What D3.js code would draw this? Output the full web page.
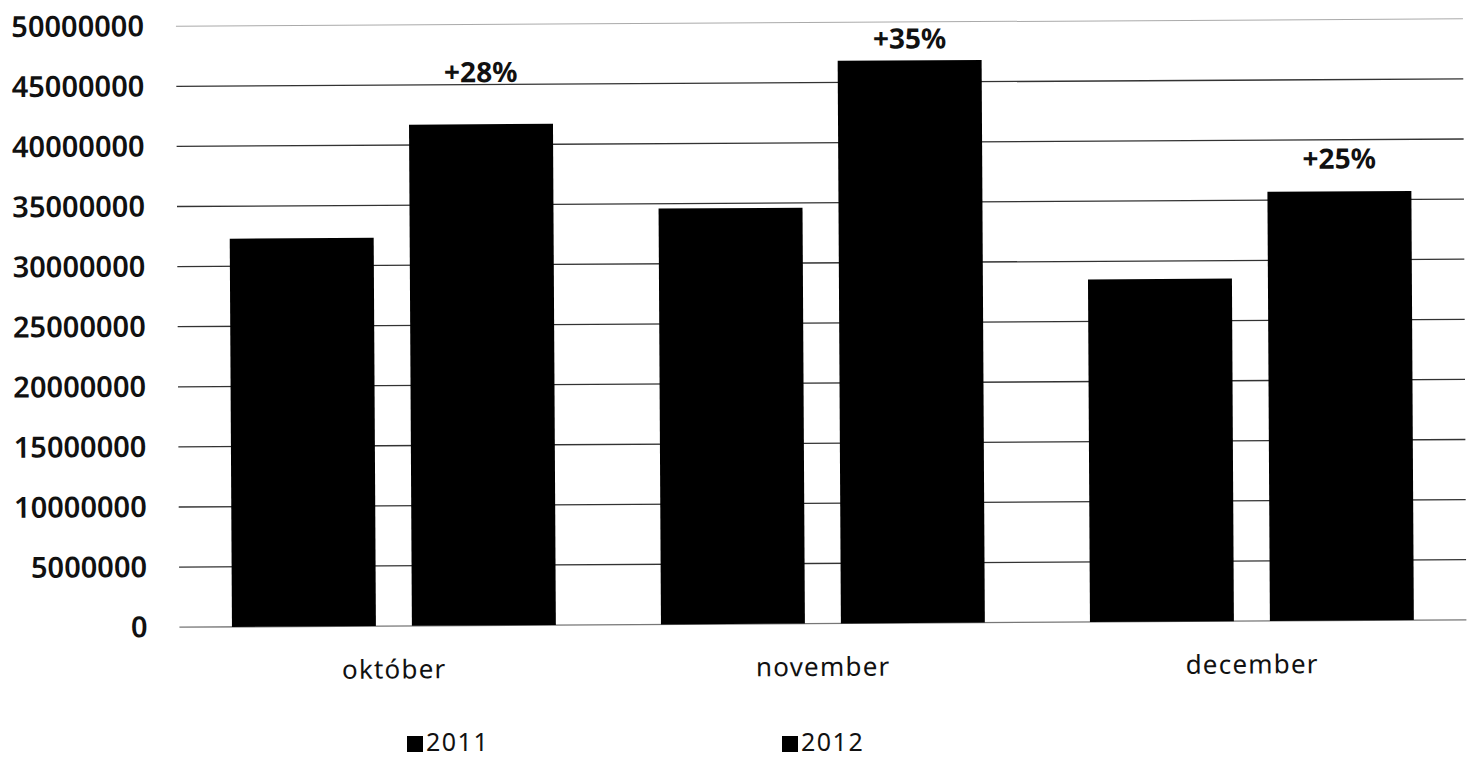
<!DOCTYPE html>
<html>
<head>
<meta charset="utf-8">
<script src="https://cdn.jsdelivr.net/npm/d3@7"></script>
<style>
  html, body { margin: 0; padding: 0; background: #fff; }
  svg { display: block; }
  text { font-family: "Noto Sans", "Open Sans", sans-serif; fill: #111; }
</style>
</head>
<body>
<svg id="chart" width="1472" height="759"></svg>
<script>
// ---- data ----
const categories = ["október", "november", "december"];
const seriesNames = ["2011", "2012"];
const values2011 = [32300000, 34600000, 28500000];
const values2012 = [41700000, 46800000, 35700000];
const changeLabels = ["+28%", "+35%", "+25%"];
// annotation anchor (data units) for each change label
const changeAnchors = [45200000, 47800000, 37600000];
const yTicks = [0, 5000000, 10000000, 15000000, 20000000, 25000000, 30000000, 35000000, 40000000, 45000000, 50000000];

const seriesValues = [values2011, values2012];
const rows = categories.map((c, i) => ({ cat: c, vals: seriesNames.map((s, j) => ({ s, v: seriesValues[j][i] })) }));

const svg = d3.select("#chart");
const W = 1472, H = 759;
const margin = { left: 178, right: 7, top: 23, bottom: 135 };
const plotW = W - margin.left - margin.right;
const plotH = H - margin.top - margin.bottom;

// the scanned original is very slightly tilted
const root = svg.append("g").attr("transform", "rotate(-0.33, 736, 380)");
const g = root.append("g").attr("transform", `translate(${margin.left},${margin.top})`);

const y = d3.scaleLinear().domain([0, 50000000]).range([plotH, 0]);
const x0 = d3.scaleBand().domain(categories).range([0, plotW]).paddingInner(0.245).paddingOuter(0.1225);
const x1 = d3.scaleBand().domain(seriesNames).range([0, x0.bandwidth()]).paddingInner(0.2).paddingOuter(0);

// gridlines
g.append("g").selectAll("line").data(yTicks).join("line")
  .attr("x1", 0).attr("x2", plotW)
  .attr("y1", d => y(d)).attr("y2", d => y(d))
  .attr("stroke", d => d === 50000000 ? "#aaa" : (d === 0 ? "#777" : "#333"))
  .attr("stroke-width", d => d === 50000000 ? 1 : 1.3);

// y axis labels
const yAxis = d3.axisLeft(y).tickValues(yTicks).tickFormat(d3.format("d")).tickSize(0).tickPadding(32);
const ya = g.append("g").call(yAxis);
ya.select(".domain").remove();
ya.selectAll("text")
  .style("font-family", "'Noto Sans', sans-serif")
  .style("font-size", "29px")
  .style("font-weight", "600")
  .attr("fill", "#111");

// bars
const groups = g.append("g").selectAll("g").data(rows).join("g")
  .attr("transform", d => `translate(${x0(d.cat)},0)`);
groups.selectAll("rect").data(d => d.vals).join("rect")
  .attr("x", d => x1(d.s))
  .attr("width", x1.bandwidth())
  .attr("y", d => y(d.v))
  .attr("height", d => y(0) - y(d.v))
  .attr("fill", "#000");

// change labels
g.append("g").selectAll("text").data(changeLabels).join("text")
  .attr("x", (d, i) => x0(categories[i]) + x1("2012") + x1.bandwidth() / 2)
  .attr("y", (d, i) => y(changeAnchors[i]))
  .attr("text-anchor", "middle")
  .style("font-size", "28px")
  .style("font-weight", "700")
  .text(d => d);

// x axis labels
const xAxis = d3.axisBottom(x0).tickSize(0).tickPadding(34);
const xa = g.append("g").attr("transform", `translate(0,${plotH})`).call(xAxis);
xa.select(".domain").remove();
xa.selectAll("text")
  .style("font-family", "'Noto Sans', sans-serif")
  .style("font-size", "26px")
  .style("letter-spacing", "1.2px")
  .attr("fill", "#111");

// legend
const legendX = [407, 782];
const legend = svg.append("g").selectAll("g").data(seriesNames).join("g")
  .attr("transform", (d, i) => `translate(${legendX[i]},733)`);
legend.append("rect").attr("width", 16).attr("height", 16).attr("y", 3).attr("fill", "#000");
legend.append("text").attr("x", 19).attr("y", 18)
  .style("font-size", "25px")
  .style("letter-spacing", "1.5px")
  .text(d => d);
</script>
</body>
</html>
